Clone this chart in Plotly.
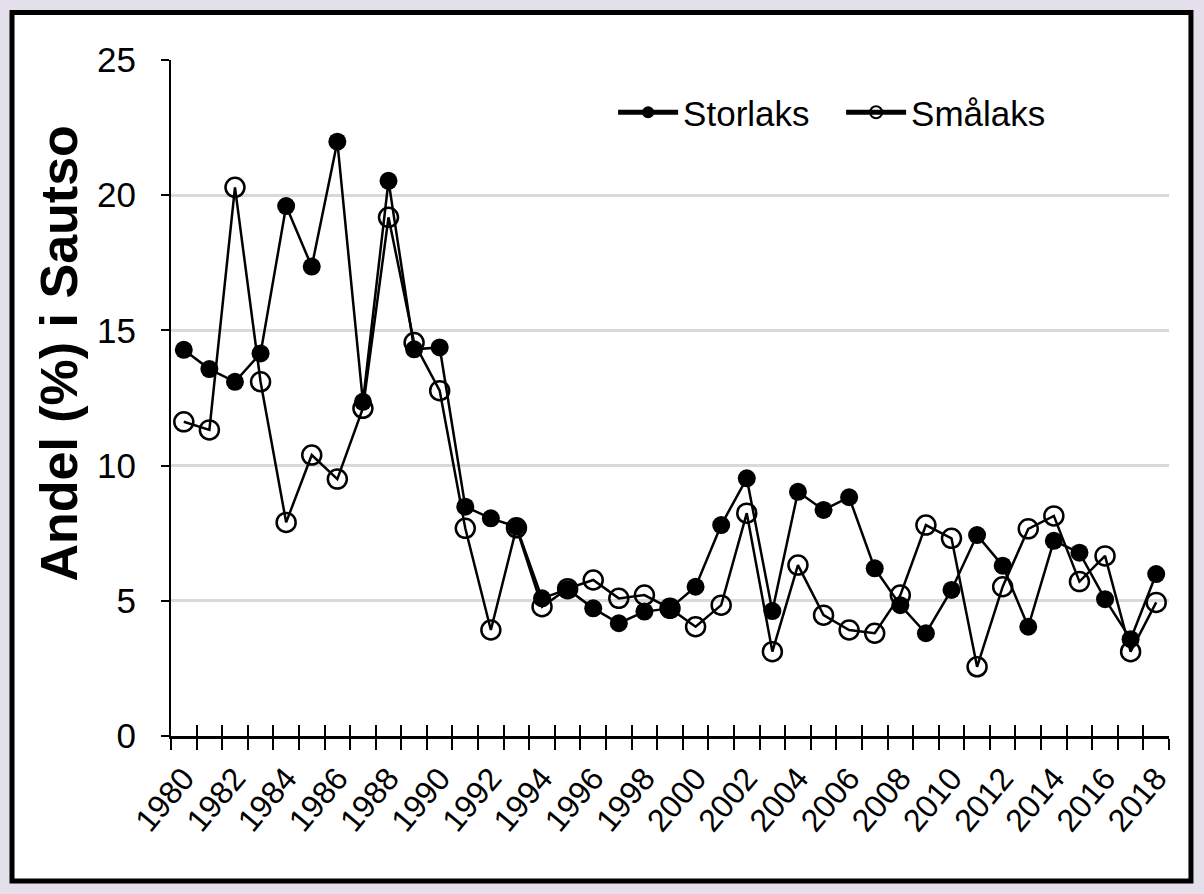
import plotly.graph_objects as go

years = list(range(1980, 2019))
storlaks = [14.28, 13.57, 13.10, 14.15, 19.60, 17.36, 21.98, 12.36, 20.53, 14.30,
            14.37, 8.48, 8.05, 7.74, 5.09, 5.43, 4.72, 4.17, 4.60, 4.72,
            5.52, 7.80, 9.53, 4.62, 9.03, 8.36, 8.83, 6.20, 4.84, 3.80,
            5.40, 7.43, 6.30, 4.04, 7.22, 6.78, 5.06, 3.58, 5.99]
smalaks = [11.62, 11.32, 20.29, 13.10, 7.90, 10.39, 9.50, 12.12, 19.18, 14.55,
           12.77, 7.68, 3.92, 7.70, 4.78, 5.45, 5.77, 5.09, 5.21, 4.72,
           4.04, 4.84, 8.24, 3.12, 6.32, 4.47, 3.92, 3.80, 5.21, 7.80,
           7.31, 2.56, 5.52, 7.66, 8.14, 5.71, 6.66, 3.12, 4.94]
label_years = years[::2]
series_names = ["Storlaks", "Smålaks"]
y_title = "Andel (%) i Sautso"

FONT = "Liberation Sans, Arial"
BG = "#e3dfeb"

xr = [years[0] - 0.5, years[-1] + 0.5]
bounds = [y - 0.5 for y in years] + [years[-1] + 0.5]

fig = go.Figure()
fig.add_trace(go.Scatter(
    x=years, y=smalaks, name=series_names[1], mode="lines+markers",
    line=dict(color="black", width=2.5),
    marker=dict(symbol="circle-open", size=19, color="black", line=dict(width=2.5, color="black")),
    legendrank=2, cliponaxis=False))
fig.add_trace(go.Scatter(
    x=years, y=storlaks, name=series_names[0], mode="lines+markers",
    line=dict(color="black", width=2.5),
    marker=dict(symbol="circle", size=18, color="black"),
    legendrank=1, cliponaxis=False))
# helper traces for the extra tick/label axes
fig.add_trace(go.Scatter(x=[None], y=[None], xaxis="x2", showlegend=False, hoverinfo="skip"))
fig.add_trace(go.Scatter(x=[None], y=[None], xaxis="x3", showlegend=False, hoverinfo="skip"))

fig.update_layout(
    width=1204, height=894,
    margin=dict(l=171, r=35, t=60, b=158),
    paper_bgcolor=BG,
    plot_bgcolor="white",
    showlegend=True,
    legend=dict(orientation="h", x=0.443, y=0.966, xanchor="left", yanchor="top",
                font=dict(family=FONT, size=35, color="black"),
                bgcolor="rgba(0,0,0,0)", itemsizing="constant", itemwidth=60,
                entrywidth=153, entrywidthmode="pixels",
                traceorder="normal"),
    xaxis=dict(range=xr, tickmode="array", tickvals=bounds, ticktext=[""] * len(bounds),
               ticks="outside", ticklen=11, tickwidth=2, tickcolor="black",
               showline=True, linecolor="black", linewidth=3,
               showgrid=False, zeroline=False),
    xaxis2=dict(range=xr, overlaying="x", anchor="y", side="bottom",
                tickmode="array", tickvals=bounds, ticktext=[""] * len(bounds),
                ticks="inside", ticklen=11, tickwidth=2, tickcolor="black",
                showline=False, showgrid=False, zeroline=False),
    xaxis3=dict(range=xr, overlaying="x", anchor="y", side="bottom",
                tickmode="array", tickvals=label_years, ticktext=[str(y) for y in label_years],
                ticks="", tickangle=-50, ticklabelstandoff=16,
                tickfont=dict(family=FONT, size=32, color="black"),
                showline=False, showgrid=False, zeroline=False),
    yaxis=dict(range=[0, 25], dtick=5, tick0=0,
               ticks="outside", ticklen=8, tickwidth=2, tickcolor="black",
               showline=True, linecolor="black", linewidth=2,
               showgrid=True, gridcolor="#d9d9d9", gridwidth=2.5, zeroline=False,
               tickfont=dict(family=FONT, size=35, color="black"),
               ticklabelstandoff=18),
    annotations=[dict(text="<b>" + y_title + "</b>", xref="paper", yref="paper",
                      x=-0.112, y=0.566, xanchor="center", yanchor="middle",
                      textangle=-90, showarrow=False,
                      font=dict(family=FONT, size=52, color="black"))],
    shapes=[dict(type="rect", xref="paper", yref="paper",
                 x0=-0.1593, x1=1.022, y0=-0.2145, y1=1.0703,
                 line=dict(color="black", width=5), fillcolor="white", layer="below")],
)

fig.write_html("out.html",
               config={"displayModeBar": False},
               post_script="document.body.style.margin='0';"
                           "document.body.style.background='" + BG + "';")
